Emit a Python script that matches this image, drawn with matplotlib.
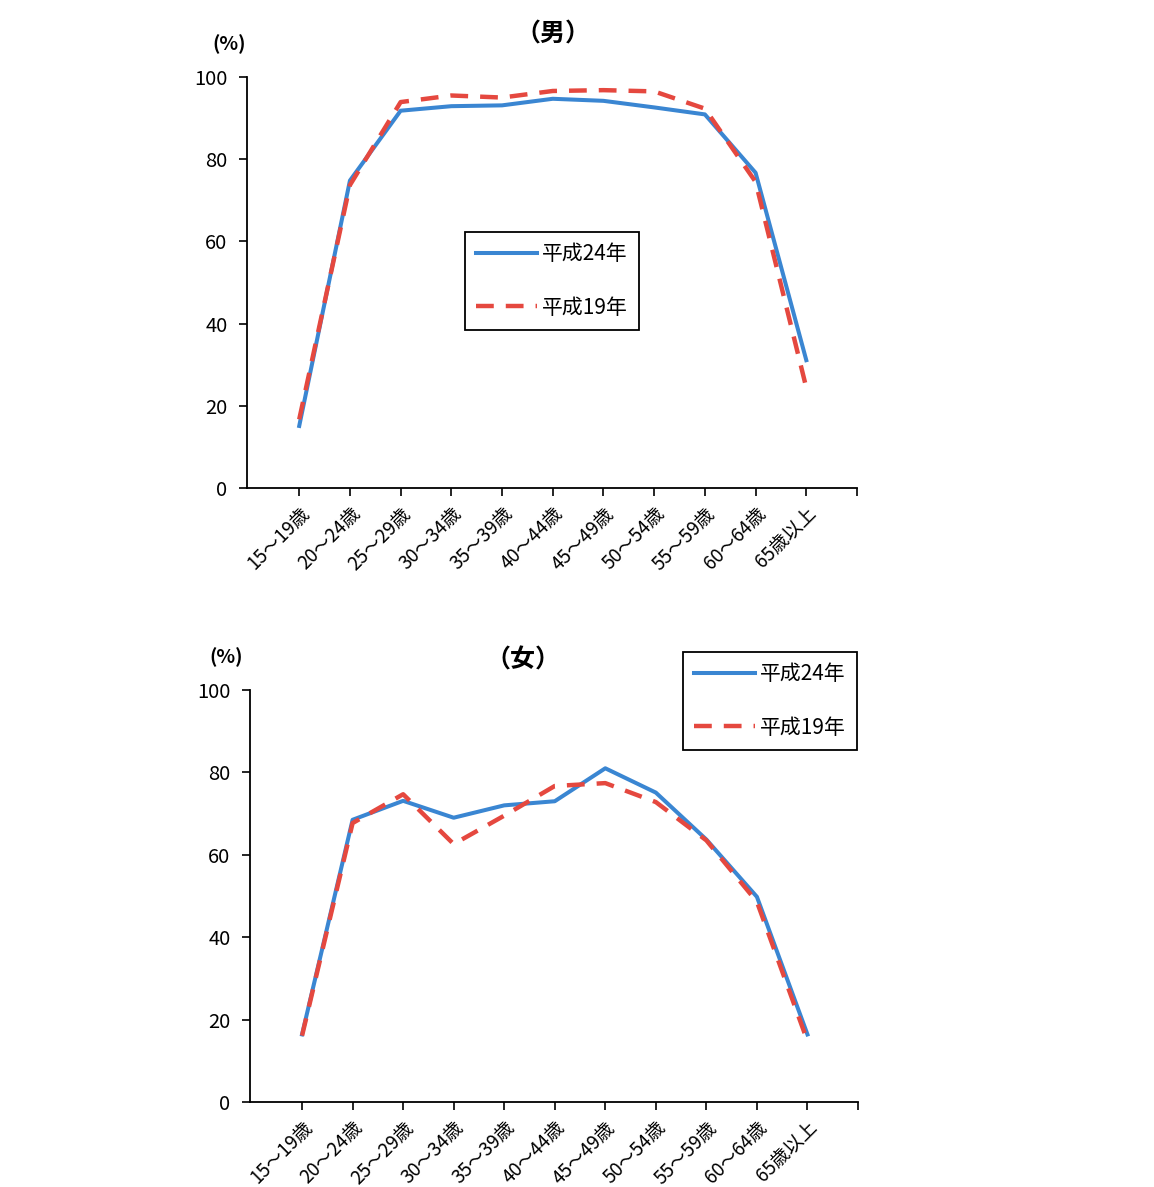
import matplotlib
matplotlib.use('Agg')
import matplotlib.pyplot as plt
from matplotlib.transforms import ScaledTranslation

plt.rcParams['font.family'] = ['Noto Sans CJK JP', 'DejaVu Sans']

# age groups (x axis)
ages = ['15～19歳', '20～24歳', '25～29歳', '30～34歳', '35～39歳', '40～44歳',
        '45～49歳', '50～54歳', '55～59歳', '60～64歳', '65歳以上']

# labour-force participation rate (%)
male_h24 = [15.1, 74.8, 91.8, 92.9, 93.1, 94.7, 94.2, 92.6, 90.9, 76.7, 31.1]
male_h19 = [16.7, 73.7, 93.9, 95.5, 95.0, 96.6, 96.8, 96.5, 92.3, 74.5, 24.4]
female_h24 = [16.4, 68.5, 73.1, 69.0, 72.0, 73.0, 81.0, 75.1, 63.7, 49.8, 16.4]
female_h19 = [16.1, 67.7, 74.7, 62.6, 69.5, 76.7, 77.4, 72.8, 63.5, 48.6, 14.8]

series_labels = ['平成24年', '平成19年']
BLUE = '#3a86d2'
RED = '#e5483f'

W, H = 1154, 1187
fig = plt.figure(figsize=(W / 100, H / 100), dpi=100)


def draw_panel(rect, h24, h19, title, title_xy, pct_xy, legend_xy):
    ax = fig.add_axes(rect)
    x = list(range(len(ages)))
    ax.plot(x, h24, color=BLUE, lw=2.9, label=series_labels[0])
    ax.plot(x, h19, color=RED, lw=3.2, dashes=(4.0, 2.7), label=series_labels[1])
    ax.set_xlim(-1.03, len(ages))
    ax.set_ylim(0, 100)
    ax.set_xticks(list(range(len(ages) + 1)))
    ax.set_xticklabels(ages + [''], rotation=45, ha='right', rotation_mode='anchor',
                       fontsize=13.5)
    # nudge the rotated labels a little left so they end just under each tick
    shift = ScaledTranslation(-7 / 100, 0, fig.dpi_scale_trans)
    for lab in ax.get_xticklabels():
        lab.set_transform(lab.get_transform() + shift)
    ax.set_yticks(range(0, 101, 20))
    ax.tick_params(axis='y', labelsize=14.5, length=6, width=1.2, pad=8)
    ax.tick_params(axis='x', length=6, width=1.2, pad=5)
    for s in ['top', 'right']:
        ax.spines[s].set_visible(False)
    for s in ['left', 'bottom']:
        ax.spines[s].set_linewidth(1.3)

    fig.text(title_xy[0] / W, 1 - title_xy[1] / H, title, ha='center', va='center',
             fontsize=18, fontweight='bold')
    fig.text(pct_xy[0] / W, 1 - pct_xy[1] / H, '(%)', ha='center', va='center',
             fontsize=14, fontweight='bold')

    leg = ax.legend(loc='upper left', bbox_to_anchor=(legend_xy[0] / W, 1 - legend_xy[1] / H),
                    bbox_transform=fig.transFigure, fontsize=15, frameon=True, fancybox=False,
                    edgecolor='black', framealpha=1, handlelength=2.9, handletextpad=0.25,
                    labelspacing=1.5, borderpad=0.55, borderaxespad=0)
    leg.get_frame().set_linewidth(1.3)
    return ax


draw_panel([247 / W, 1 - 488 / H, 610 / W, 411 / H], male_h24, male_h19,
           '（男）', (553, 35), (229, 44), (465, 232))
draw_panel([250 / W, 1 - 1102 / H, 608 / W, 412 / H], female_h24, female_h19,
           '（女）', (523, 660), (226, 657), (683, 652))

fig.savefig('out.png', dpi=100, facecolor='white')
